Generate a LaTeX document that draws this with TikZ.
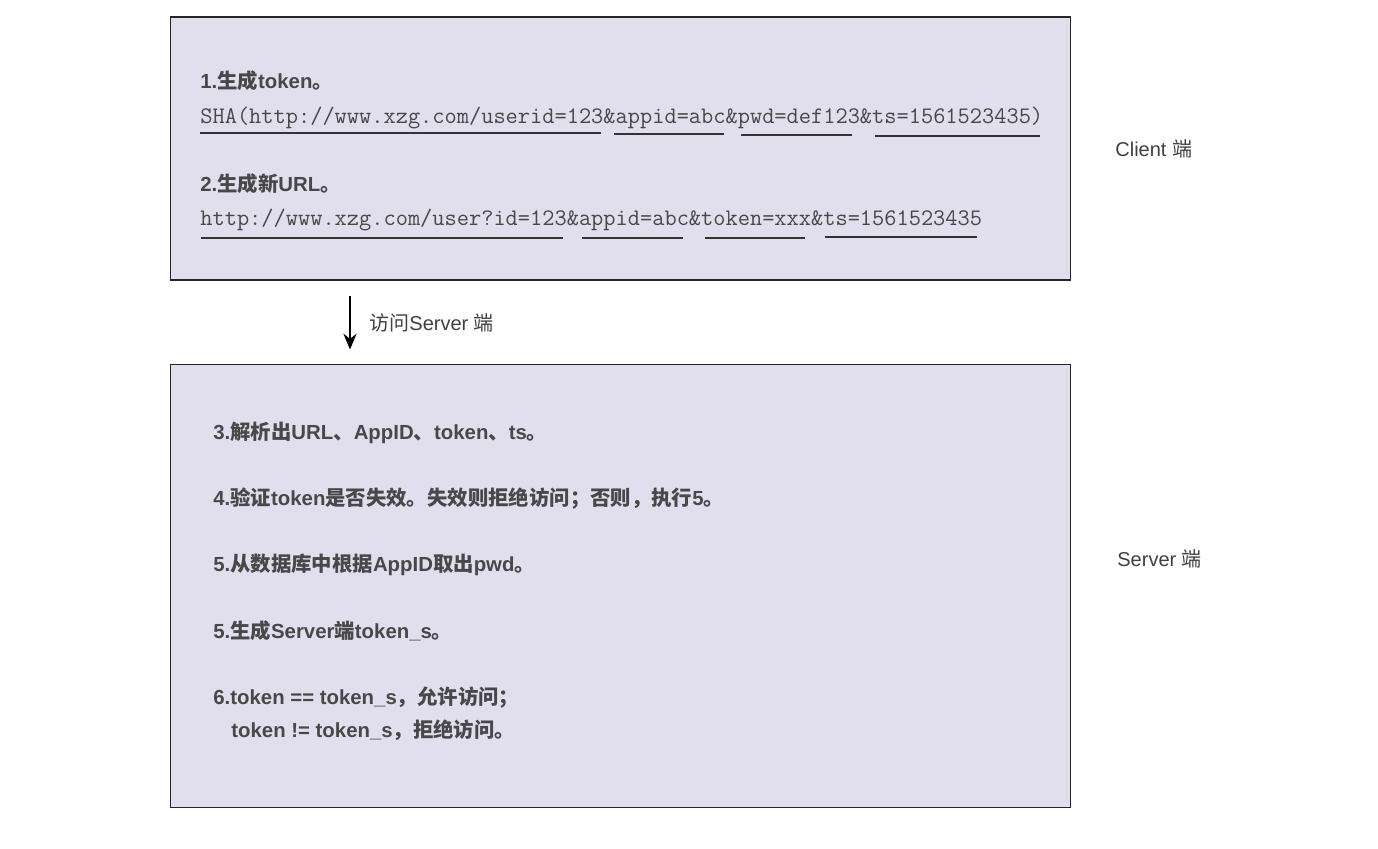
\documentclass[tikz,border=0pt]{standalone}
\usepackage{fontspec}
\usetikzlibrary{arrows.meta}
\setmainfont{Liberation Sans}
\newfontfamily\cjkfont{Noto Sans CJK SC}

% switch to the CJK font for Chinese characters
\XeTeXinterchartokenstate=1
\newXeTeXintercharclass\cjkclass
\newcount\cjkcnt
\cjkcnt="3000
\loop \XeTeXcharclass\cjkcnt=\cjkclass \advance\cjkcnt by 1 \ifnum\cjkcnt<"A000 \repeat
\cjkcnt="FF00
\loop \XeTeXcharclass\cjkcnt=\cjkclass \advance\cjkcnt by 1 \ifnum\cjkcnt<"FFF0 \repeat
\XeTeXinterchartoks 0 \cjkclass={\begingroup\cjkfont}
\XeTeXinterchartoks 4095 \cjkclass={\begingroup\cjkfont}
\XeTeXinterchartoks \cjkclass 0={\endgroup}
\XeTeXinterchartoks \cjkclass 4095={\endgroup}

\definecolor{boxfill}{RGB}{225,222,238}
\definecolor{txt}{RGB}{72,72,72}

\tikzset{
  panel/.style={draw=black!85, fill=boxfill, line width=0.6pt, minimum width=18.02cm, inner sep=0},
  steptext/.style={anchor=base west, inner sep=0, text=txt, font=\fontsize{11.6}{14}\selectfont\bfseries},
  urltext/.style={anchor=base west, inner sep=0, text=txt, font=\fontsize{13.5}{15}\selectfont\ttfamily},
  sidetext/.style={anchor=base west, inner sep=0, text=black!75, font=\fontsize{11.4}{14}\selectfont},
  uline/.style={line width=0.8pt, black!80},
  flow/.style={-{Stealth[length=9pt,width=7.5pt]}, line width=1.2pt}
}

\begin{document}
\begin{tikzpicture}[x=0.02cm, y=-0.02cm]
\useasboundingbox (0,0) rectangle (1378,848);

% client side
\node[panel, minimum height=5.26cm] (client) at (620.5,148.5) {};
\node[steptext] (s1) at (200,89) {1.生成token。};
\node[urltext] (sha) at (200,123) {SHA(http://www.xzg.com/userid=123\&appid=abc\&pwd=def123\&ts=1561523435)};
\draw[uline] (200,133)--(601,133);
\draw[uline] (614,134)--(724,134);
\draw[uline] (741,135)--(852,135);
\draw[uline] (875,136)--(1040,136);

\node[steptext] (s2) at (200,191) {2.生成新URL。};
\node[urltext] (url) at (200,225) {http://www.xzg.com/user?id=123\&appid=abc\&token=xxx\&ts=1561523435};
\draw[uline] (201,238)--(563,238);
\draw[uline] (582,238)--(683,238);
\draw[uline] (705,238)--(805,238);
\draw[uline] (825,237)--(977,237);

\node[sidetext] (cl) at (1115,156) {Client 端};

% server side
\node[panel, minimum height=8.88cm] (server) at (620.5,586) {};
\node[steptext] (s3) at (213,439) {3.解析出URL、AppID、token、ts。};
\node[steptext] (s4) at (213,505) {4.验证token是否失效。失效则拒绝访问；否则，执行5。};
\node[steptext] (s5) at (213,571) {5.从数据库中根据AppID取出pwd。};
\node[steptext] (s5b) at (213,638) {5.生成Server端token\_s。};
\node[steptext] (s6) at (213,704) {6.token == token\_s，允许访问；};
\node[steptext] (s6b) at (231,737) {token != token\_s，拒绝访问。};

\node[sidetext] (sv) at (1117,566) {Server 端};

% request
\coordinate (ax) at (350,0);
\draw[flow, shorten <=0.3cm, shorten >=0.28cm] (client.south -| ax) -- (server.north -| ax);
\node[sidetext] (req) at (369,330) {访问Server 端};
\end{tikzpicture}
\end{document}
